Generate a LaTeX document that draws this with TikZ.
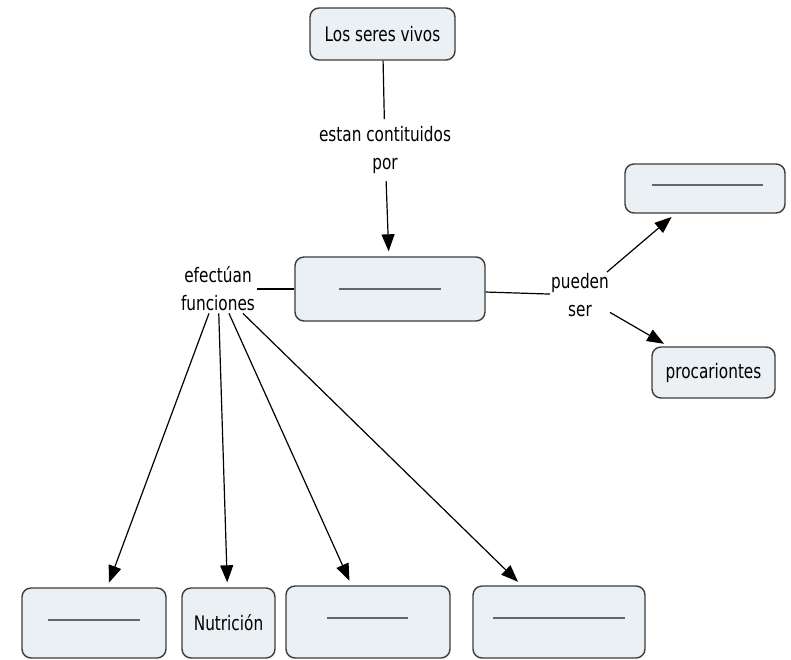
\documentclass[tikz,border=0pt]{standalone}
\usepackage{fontspec}
\setmainfont[FakeStretch=0.85]{DejaVu Sans Condensed}
\usetikzlibrary{arrows.meta}
\definecolor{boxfill}{HTML}{EAF0F3}
\definecolor{boxedge}{HTML}{3C3C3C}
\definecolor{blank}{HTML}{666666}
\tikzset{
  concept/.style={draw=boxedge, fill=boxfill, line width=1.4pt, rounded corners=9pt,
    inner sep=0pt, align=center},
  linkword/.style={align=center, inner sep=4pt},
  link/.style={line width=1.2pt, draw=black},
  linkarrow/.style={link, -{Triangle[length=17pt,width=13pt]}, shorten >=5pt},
  blankline/.style={draw=blank, line width=2pt}
}
\begin{document}
\begin{tikzpicture}[x=1pt, y=-1pt, font=\fontsize{20}{28}\selectfont]
\useasboundingbox (0,0) rectangle (791,659);

% concepts
\node[concept, minimum width=145pt, minimum height=52pt] (seres) at (382.5,34) {Los seres vivos};
\node[concept, minimum width=190pt, minimum height=64pt] (celula) at (390,289) {};
\node[concept, minimum width=160pt, minimum height=49pt] (euca) at (705,188.5) {};
\node[concept, minimum width=123pt, minimum height=51pt] (proca) at (713.5,372.5) {procariontes};
\node[concept, minimum width=144pt, minimum height=70pt] (f1) at (94,623) {};
\node[concept, minimum width=93pt, minimum height=70pt] (f2) at (228.5,623) {Nutrición};
\node[concept, minimum width=164pt, minimum height=72pt] (f3) at (368,622) {};
\node[concept, minimum width=172pt, minimum height=72pt] (f4) at (559,622) {};

% blanks to fill in
\draw[blankline] ([xshift=-51pt]celula.center) -- ([xshift=51pt]celula.center);
\draw[blankline] ([xshift=-53pt,yshift=3.5pt]euca.center) -- ([xshift=58pt,yshift=3.5pt]euca.center);
\draw[blankline] ([xshift=-46pt,yshift=3pt]f1.center) -- ([xshift=46pt,yshift=3pt]f1.center);
\draw[blankline] ([xshift=-41pt,yshift=4pt]f3.center) -- ([xshift=40pt,yshift=4pt]f3.center);
\draw[blankline] ([xshift=-66pt,yshift=4pt]f4.center) -- ([xshift=66pt,yshift=4pt]f4.center);

% linking phrases
\node[linkword, inner ysep=7pt] (const) at (385,150) {estan contituidos\\por};
\node[linkword, inner sep=2pt] (func) at (218,289) {efectúan\\funciones};
\node[linkword, inner sep=1pt] (pued) at (580,295) {pueden\\ser};

% connectors
\draw[link] (seres) -- (const);
\draw[linkarrow] (const) -- (celula);
\draw[link] (celula) -- (pued);
\draw[linkarrow] (pued) -- (euca);
\draw[linkarrow] (pued) -- (proca);
\draw[link] (celula) -- (func);
\draw[linkarrow] (func) -- (f1);
\draw[linkarrow] (func) -- (f2);
\draw[linkarrow] (func) -- (f3);
\draw[linkarrow] (func) -- (f4);
\end{tikzpicture}
\end{document}
